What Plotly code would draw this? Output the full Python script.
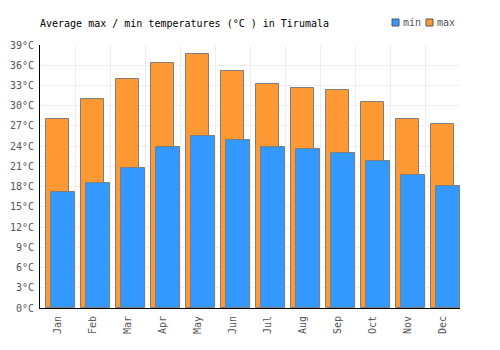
import plotly.graph_objects as go

months = ["Jan", "Feb", "Mar", "Apr", "May", "Jun", "Jul", "Aug", "Sep", "Oct", "Nov", "Dec"]
max_temps = [28.1, 31.0, 33.9, 36.4, 37.6, 35.1, 33.2, 32.6, 32.4, 30.5, 28.0, 27.3]
min_temps = [17.2, 18.5, 20.7, 23.9, 25.5, 24.9, 23.9, 23.6, 23.0, 21.8, 19.7, 18.1]
y_ticks = list(range(0, 40, 3))

FONT = "DejaVu Sans Mono"
BORDER = "#7f7f7f"
MAX_COLOR = "#ff9933"
MIN_COLOR = "#3399ff"

fig = go.Figure()
fig.add_trace(go.Bar(
    x=months, y=max_temps, name="max",
    width=0.66, offset=-0.33,
    marker=dict(color=MAX_COLOR, line=dict(color=BORDER, width=1)),
    showlegend=False,
))
fig.add_trace(go.Bar(
    x=months, y=min_temps, name="min",
    width=0.69, offset=-0.19,
    marker=dict(color=MIN_COLOR, line=dict(color=BORDER, width=1)),
    showlegend=False,
))

W, H = 500, 350
# compact legend: swatch + label, in pixel positions converted to paper coords
legend_items = [("min", MIN_COLOR, 392), ("max", MAX_COLOR, 426)]
shapes = []
annotations = []
for label, color, px in legend_items:
    shapes.append(dict(
        type="rect", xref="paper", yref="paper",
        x0=(px - 40) / 420, x1=(px + 7 - 40) / 420,
        y0=(308 - 26) / 263, y1=(308 - 19) / 263,
        fillcolor=color, line=dict(color="#555555", width=1),
    ))
    annotations.append(dict(
        text=label, xref="paper", yref="paper",
        x=(px + 9 - 40) / 420, xanchor="left",
        y=(308 - 22.5) / 263, yanchor="middle",
        showarrow=False,
        font=dict(family=FONT, size=10, color="#555555"),
    ))

fig.update_layout(
    width=W, height=H,
    margin=dict(l=40, r=40, t=45, b=42, autoexpand=False),
    paper_bgcolor="white", plot_bgcolor="white",
    barmode="overlay",
    font=dict(family=FONT, size=10, color="#555555"),
    title=dict(
        text="Average max / min temperatures (°C ) in Tirumala",
        x=40 / W, xanchor="left", xref="container",
        y=1 - 23 / H, yanchor="middle", yref="container",
        font=dict(family=FONT, size=10, color="#000000"),
    ),
    showlegend=False,
    shapes=shapes,
    annotations=annotations,
    bargap=0,
)

fig.update_xaxes(
    type="category", range=[-0.5, 11.5],
    tickson="boundaries", ticks="",
    showgrid=True, gridcolor="#eeeeee", gridwidth=1,
    showline=True, linecolor="#000000", linewidth=1,
    tickangle=-90, tickfont=dict(family=FONT, size=10, color="#555555"),
    ticklabelstandoff=3,
    automargin=False, fixedrange=True,
)
fig.update_yaxes(
    range=[0, 39], tickvals=y_ticks, ticktext=[f"{v}°C" for v in y_ticks],
    showgrid=True, gridcolor="#eeeeee", gridwidth=1,
    showline=True, linecolor="#000000", linewidth=1,
    zeroline=False, ticks="",
    tickfont=dict(family=FONT, size=10, color="#555555"),
    ticklabelstandoff=3,
    automargin=False, fixedrange=True,
)

fig.write_html("out.html")
